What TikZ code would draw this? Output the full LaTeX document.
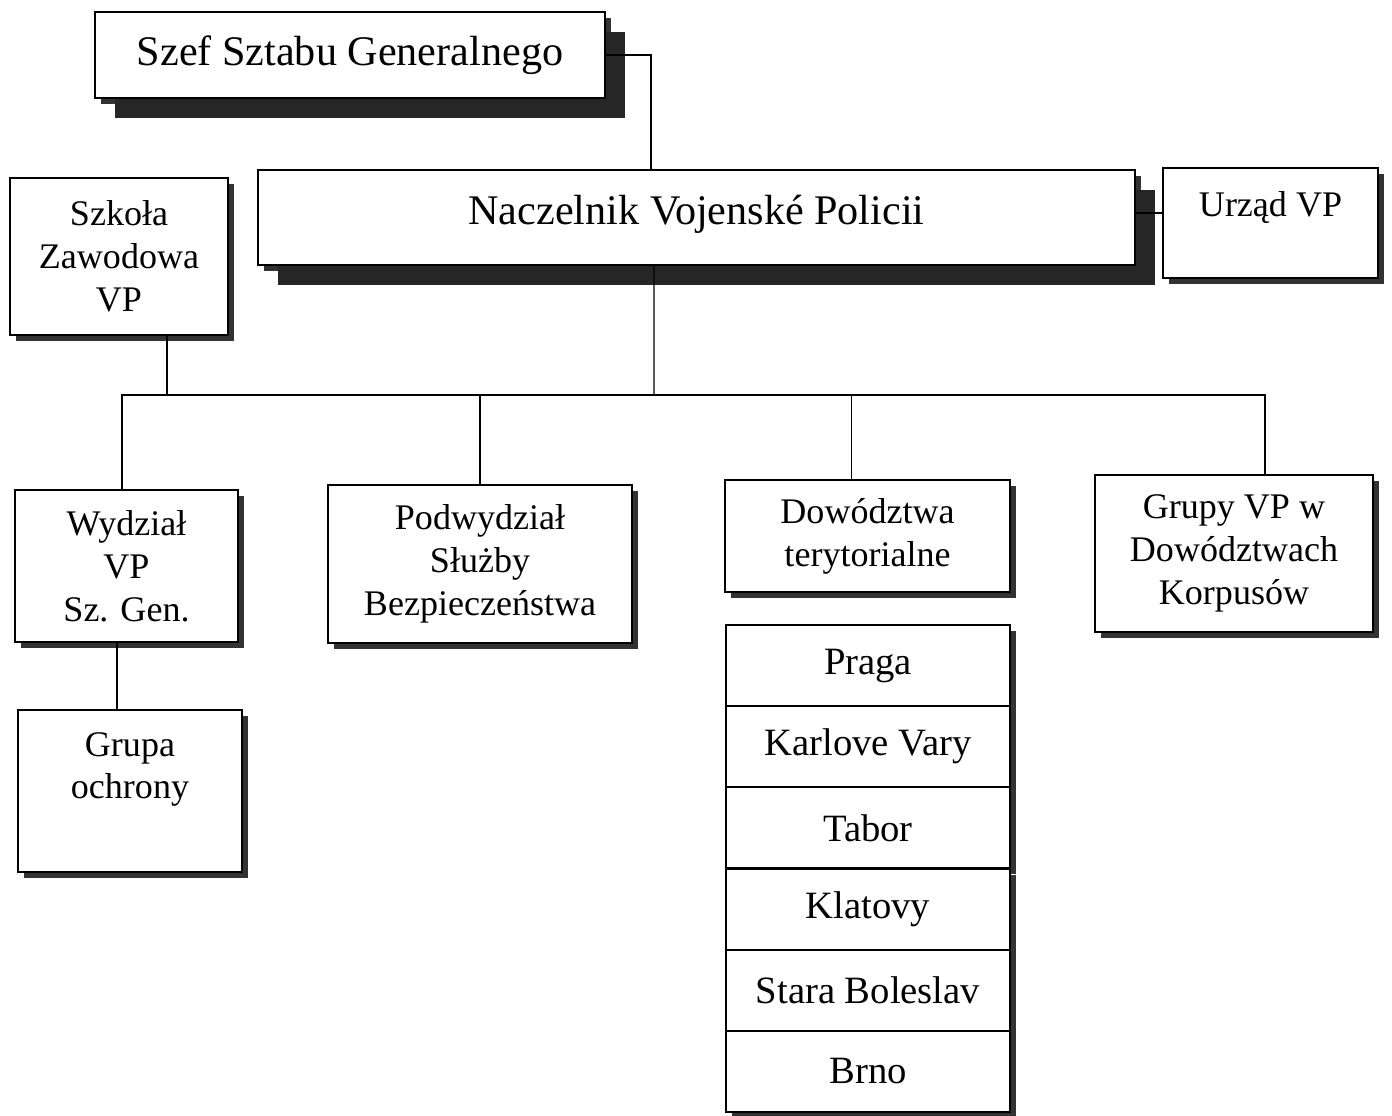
\documentclass[tikz,border=0pt]{standalone}
\usepackage{fontspec}
\setmainfont{Liberation Serif}
\usetikzlibrary{shadows}
\begin{document}
\begin{tikzpicture}[
    box/.style={draw, line width=1.2pt, fill=white, align=center,
      font=\fontsize{20.5}{24.4}\selectfont, inner sep=0pt,
      drop shadow={shadow xshift=.12cm, shadow yshift=-.12cm, fill=black!80, opacity=1}},
    bigbox/.style={box, font=\fontsize{24}{29}\selectfont,
      drop shadow={shadow xshift=.4cm, shadow yshift=-.4cm, fill=black!85, opacity=1}},
    town/.style={box, font=\fontsize{22}{26}\selectfont,
      minimum width=5.68cm, minimum height=1.62cm},
    link/.style={line width=.8pt}]
    \useasboundingbox (0,0) rectangle (27.84,-22.3);
    % top of the chart
    \node[bigbox, minimum width=10.2cm, minimum height=1.72cm] (szef) at (7.0,-1.1) {Szef Sztabu Generalnego};
    \node[bigbox, minimum width=17.54cm, minimum height=1.9cm, text depth=.3cm] (naczelnik) at (13.93,-4.35) {Naczelnik Vojenské Policii};
    \node[box, minimum width=4.3cm, minimum height=2.2cm, text depth=.75cm] (urzad) at (25.41,-4.46) {Urząd VP};
    \node[box, minimum width=4.36cm, minimum height=3.14cm] (szkola) at (2.38,-5.13) {Szkoła\\Zawodowa\\VP};
    % second level
    \node[box, minimum width=4.46cm, minimum height=3.04cm] (wydzial) at (2.53,-11.32) {Wydział\\VP\\Sz. Gen.};
    \node[box, minimum width=6.08cm, minimum height=3.16cm] (podwydzial) at (9.6,-11.28) {Podwydział\\Służby\\Bezpieczeństwa};
    \node[box, minimum width=5.7cm, minimum height=2.24cm] (dowodztwa) at (17.35,-10.72) {Dowództwa\\terytorialne};
    \node[box, minimum width=5.56cm, minimum height=3.14cm] (grupy) at (24.68,-11.07) {Grupy VP w\\Dowództwach\\Korpusów};
    \node[box, minimum width=4.48cm, minimum height=3.24cm, text depth=1.02cm] (ochrona) at (2.6,-15.82) {Grupa\\ochrony};
    % territorial commands
    \foreach \town [count=\i] in {Praga, Karlove Vary, Tabor, Klatovy, Stara Boleslav, Brno}
        \node[town] (t\i) at (17.36,-13.31-1.624*\i+1.624) {\town};
    % connectors
    \coordinate (bus) at (13.08,-7.9);
    \draw[link] (szef.east) -| ([xshift=-.91cm]naczelnik.north);
    \draw[link] ([yshift=.2cm]urzad.west) -- ([yshift=.2cm]urzad.west -| naczelnik.east);
    \draw[link] ([xshift=-.85cm]naczelnik.south) -- (bus);
    \draw[link] ([xshift=.96cm]szkola.south) -- ([xshift=.96cm]szkola.south |- bus);
    \draw[link] ([xshift=-.09cm]wydzial.north) |- ([xshift=.62cm]grupy.north |- bus) -- ([xshift=.62cm]grupy.north);
    \draw[link] (podwydzial.north) -- (podwydzial.north |- bus);
    \draw[link] ([xshift=-.32cm]dowodztwa.north) -- ([xshift=-.32cm]dowodztwa.north |- bus);
    \draw[link] ([xshift=-.19cm]wydzial.south) -- ([xshift=-.19cm]wydzial.south |- ochrona.north);
\end{tikzpicture}
\end{document}
